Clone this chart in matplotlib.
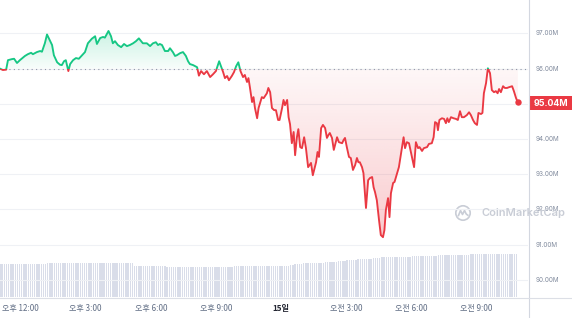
import numpy as np
import matplotlib
matplotlib.use('Agg')
import matplotlib.pyplot as plt
from matplotlib.patches import PathPatch, Rectangle, Circle
from matplotlib.path import Path
from matplotlib.lines import Line2D
from matplotlib.transforms import IdentityTransform

# ---------------- data ----------------
# time in minutes since 11:00 (day 14), price in millions
times_min = [3, 11, 20, 25, 36, 42, 50, 58, 72, 80, 89, 94, 105, 114, 119, 127, 133, 139, 147, 152,
             161, 169, 174, 180, 185, 192, 197, 205, 213, 221, 230, 238, 246, 257, 266, 271, 280, 288, 293, 303,
             310, 315, 321, 329, 338, 346, 354, 362, 371, 379, 387, 398, 409, 418, 426, 434, 440, 445, 451, 459,
             468, 473, 481, 487, 492, 501, 509, 517, 523, 528, 537, 548, 553, 559, 567, 575, 584, 592, 600, 609,
             614, 620, 625, 631, 636, 644, 650, 656, 662, 668, 675, 680, 686, 690, 694, 700, 704, 708, 714, 718,
             727, 732, 741, 745, 750, 755, 761, 766, 772, 776, 783, 787, 791, 797, 801, 805, 810, 815, 819, 824,
             828, 833, 838, 844, 849, 855, 863, 868, 877, 881, 885, 891, 896, 902, 907, 911, 915, 921, 926, 935,
             940, 949, 953, 957, 962, 968, 973, 979, 985, 990, 994, 998, 1004, 1008, 1015, 1021, 1026, 1032, 1036, 1040,
             1045, 1051, 1056, 1062, 1066, 1070, 1076, 1080, 1084, 1090, 1094, 1101, 1106, 1110, 1115, 1119, 1123, 1128, 1134, 1142,
             1148, 1153, 1159, 1163, 1170, 1175, 1184, 1189, 1197, 1202, 1206, 1211, 1214, 1218, 1225, 1231, 1236, 1240, 1244, 1250,
             1257, 1264, 1269, 1275, 1280, 1286, 1294, 1300, 1305, 1311, 1316, 1322, 1326, 1333, 1337, 1341, 1347, 1352, 1358, 1363,
             1369, 1374, 1379, 1383, 1388, 1394, 1399, 1405, 1410, 1419, 1424, 1430, 1435]

prices = [96.00, 95.96, 95.97, 96.24, 96.27, 96.28, 96.16, 96.24, 96.36, 96.41, 96.45, 96.41, 96.47, 96.50, 96.48, 96.72, 96.97, 96.84, 96.67, 96.38,
          96.18, 96.11, 96.10, 96.21, 96.24, 95.93, 96.13, 96.24, 96.30, 96.28, 96.38, 96.47, 96.72, 96.85, 96.92, 96.70, 96.87, 96.90, 96.88, 97.07,
          96.92, 96.72, 96.78, 96.67, 96.61, 96.70, 96.64, 96.67, 96.72, 96.78, 96.86, 96.72, 96.72, 96.64, 96.72, 96.75, 96.67, 96.70, 96.67, 96.50,
          96.50, 96.58, 96.47, 96.36, 96.38, 96.44, 96.47, 96.36, 96.21, 96.13, 96.10, 96.04, 95.80, 95.93, 95.84, 95.93, 95.76, 95.84, 95.93, 96.21,
          96.07, 95.90, 95.73, 95.79, 95.67, 95.79, 95.90, 96.07, 96.18, 95.93, 95.76, 95.82, 95.62, 95.73, 95.47, 95.05, 95.19, 94.88, 94.59, 94.88,
          95.19, 95.16, 95.30, 95.45, 95.33, 94.88, 94.82, 94.82, 94.54, 94.54, 94.88, 95.11, 94.96, 95.11, 94.62, 94.42, 93.88, 94.20, 93.54, 94.05,
          94.28, 93.77, 93.74, 94.05, 93.74, 93.20, 93.32, 92.97, 93.34, 93.63, 93.49, 94.31, 94.40, 94.31, 94.03, 94.11, 94.17, 94.03, 93.69, 94.05,
          93.91, 93.88, 93.97, 94.03, 93.77, 93.49, 93.46, 93.12, 93.26, 93.46, 93.34, 93.34, 93.20, 93.03, 92.04, 92.83, 92.89, 92.92, 92.63, 92.49,
          92.26, 91.70, 91.27, 91.21, 91.41, 91.98, 92.32, 91.78, 92.46, 92.75, 92.78, 93.03, 93.20, 93.46, 93.77, 94.05, 93.74, 93.91, 93.88, 93.49,
          93.20, 93.91, 93.74, 93.77, 93.66, 93.74, 93.77, 93.86, 93.88, 94.05, 94.48, 94.45, 94.25, 94.54, 94.59, 94.57, 94.45, 94.59, 94.48, 94.62,
          94.59, 94.57, 94.54, 94.79, 94.62, 94.62, 94.68, 94.76, 94.68, 94.54, 94.45, 94.40, 94.74, 94.71, 94.74, 95.30, 95.59, 96.01, 95.87, 95.39,
          95.33, 95.36, 95.30, 95.42, 95.33, 95.50, 95.45, 95.45, 95.47, 95.50, 95.36, 95.16, 95.04]

open_price = 96.00
last_label = '95.04M'

# 24h volume (billions), one bar every 6 minutes starting at 11:03 (rows of 10)
vol_start = 3
vol_step = 6
volumes = [33, 33, 33, 33, 33, 33, 33, 33, 33, 33,
           33, 33, 33, 33, 33, 33, 33, 33, 33, 33,
           33, 33, 34, 34, 34, 34, 34, 34, 34, 34,
           34, 34, 34, 34, 34, 34, 34, 34, 34, 34,
           34, 34, 34, 34, 34, 34, 34, 34, 34, 34,
           34, 34, 34, 34, 34, 34, 34, 34, 34, 34,
           34, 34, 31, 31, 31, 31, 31, 31, 31, 31,
           31, 31, 31, 31, 31, 31, 31, 30.5, 30.5, 30.5,
           30.5, 30.5, 30.5, 30.5, 30.5, 30.5, 30.5, 30.5, 30.5, 30.5,
           30.5, 30.5, 30.5, 30.5, 30.5, 30.5, 30.5, 30.5, 30.5, 30.5,
           30.5, 30.5, 30.5, 30.5, 30.5, 30.5, 30.5, 30.5, 31, 31,
           31, 31, 31, 31, 31, 31, 31, 31, 31, 31,
           31, 31, 31, 31, 31, 31, 31, 31, 31, 31,
           31, 31, 31, 31.5, 32, 32.5, 33, 33, 33.5, 33.5,
           34, 34, 34, 34, 34, 34.5, 34.5, 34.5, 34.5, 34.5,
           35, 35, 35, 35, 35.5, 35.5, 36, 36, 36.5, 36.5,
           37, 37, 37, 37.5, 37.5, 38, 38, 38, 38, 38,
           38.5, 38.5, 39, 39, 39.5, 39.5, 40, 40, 40, 40,
           40, 40, 40, 40, 40.5, 40.5, 40.5, 40.5, 40.5, 40.5,
           41, 41, 41, 41, 41, 41, 41.5, 41.5, 41.5, 41.5,
           41.5, 41.5, 42, 42, 42, 42, 42, 42, 42, 42,
           42.5, 42.5, 42.5, 42.5, 42.5, 42.5, 42.5, 43, 43, 43,
           43, 43, 43, 43, 43, 43, 43, 43, 43, 43,
           43, 43, 43, 43, 43, 43, 43, 43, 43]

tick_pos = [60, 240, 420, 600, 780, 960, 1140, 1320]
tick_labels = ['오후 12:00', '오후 3:00', '오후 6:00', '오후 9:00', '15일', '오전 3:00', '오전 6:00', '오전 9:00']
ygrid_vals = [90, 91, 92, 93, 94, 95, 96, 97]
ylabel_vals = [90, 91, 92, 93, 94, 96, 97]

assert len(times_min) == len(prices), (len(times_min), len(prices))

# ---------------- figure ----------------
W, H = 572, 318
GREEN = '#16c784'
RED = '#ea3943'
fig = plt.figure(figsize=(W / 100, H / 100), dpi=100)
fig.patch.set_facecolor('white')

ax_right_px, ax_bot_px = 528, 297
ax = fig.add_axes([0, (H - ax_bot_px) / H, ax_right_px / W, ax_bot_px / H])
axv = ax.twinx()
ax.set_zorder(2)
axv.set_zorder(1)
ax.patch.set_visible(False)

t = np.array(times_min, dtype=float)
p = np.array(prices, dtype=float)
xmin, xmax = 3, 1463
ylo, yhi = 89.51, 97.95

# volume bars
vt = vol_start + vol_step * np.arange(len(volumes))
axv.bar(vt, volumes, width=3.8, color='#d9dde9', linewidth=0, align='center')
axv.set_ylim(0, 297)
axv.set_xlim(xmin, xmax)
for s in axv.spines.values():
    s.set_visible(False)
axv.set_yticks([])
axv.tick_params(length=0, labelright=False, labelbottom=False)

# grid lines
for v in ygrid_vals:
    ax.axhline(v, color='#eff1f5', lw=0.8, zorder=0.5)

# gradient fill between line and open price
poly = ax.fill_between(t, p, open_price, facecolor='none', edgecolor='none')
cpath = Path.make_compound_path(*poly.get_paths())
clip_patch = PathPatch(cpath, transform=ax.transData, facecolor='none', edgecolor='none')
ax.add_patch(clip_patch)
ny = 500
yy = np.linspace(ylo, yhi, ny)
rgba = np.zeros((ny, 2, 4))
g = np.array(matplotlib.colors.to_rgb(GREEN))
r = np.array(matplotlib.colors.to_rgb(RED))
above = yy >= open_price
rgba[above, :, :3] = g
rgba[above, :, 3] = (0.03 + 0.20 * np.clip((yy[above] - open_price) / (97.1 - open_price), 0, 1))[:, None]
rgba[~above, :, :3] = r
rgba[~above, :, 3] = (0.04 + 0.22 * np.clip((open_price - yy[~above]) / (open_price - 91.2), 0, 1))[:, None]
im = ax.imshow(rgba, extent=(xmin, xmax, ylo, yhi), origin='lower', aspect='auto',
               interpolation='bilinear', zorder=1)
im.set_clip_path(clip_patch)

# dotted open line
ax.axhline(open_price, color='#8f97a8', lw=0.8, ls=(0, (1, 3)), zorder=1.5)

# price line, green above / red below open
lg, = ax.plot(t, p, color=GREEN, lw=1.35, zorder=3, solid_joinstyle='round')
lr, = ax.plot(t, p, color=RED, lw=1.35, zorder=3, solid_joinstyle='round')
lg.set_clip_path(Rectangle((xmin, open_price), xmax - xmin, 20, transform=ax.transData))
lr.set_clip_path(Rectangle((xmin, open_price - 20), xmax - xmin, 20, transform=ax.transData))
ax.plot(t[-1], p[-1], 'o', color=RED, ms=4.6, zorder=4, mec='none')

ax.set_xlim(xmin, xmax)
ax.set_ylim(ylo, yhi)
for s in ax.spines.values():
    s.set_visible(False)
ax.set_xticks([])
ax.set_yticks([])

# y labels
for v in ylabel_vals:
    ax.text(1 + 8 / ax_right_px, v, f'{v:.2f}M', transform=ax.get_yaxis_transform(),
            ha='left', va='center', fontsize=4.6, color='#808a9d', family=['Inter', 'DejaVu Sans'])

# x labels
for pos, lab in zip(tick_pos, tick_labels):
    bold = lab.endswith('일')
    ax.text(pos, -11 / ax_bot_px, lab, transform=ax.get_xaxis_transform(),
            ha='center', va='center', fontsize=5.8,
            color='#222531' if bold else '#616e85', fontweight='bold' if bold else 'normal',
            family=['Noto Sans CJK KR', 'DejaVu Sans'])

ident = IdentityTransform()
# right axis line and bottom line
fig.add_artist(Line2D([528.5, 528.5], [0, H], transform=ident, color='#d3d7e0', lw=0.8))
fig.add_artist(Line2D([0, W], [H - 297.5, H - 297.5], transform=ident, color='#dcdfe6', lw=0.8))

# last price label box
fig.add_artist(Rectangle((529, H - 110), 43, 14, transform=ident, facecolor=RED, edgecolor='none'))
fig.text(550.5 / W, (H - 103) / H, last_label, ha='center', va='center', color='white',
         fontsize=6.4, fontweight='bold', family=['Inter', 'DejaVu Sans'])

# watermark
wm = '#c9cdd6'
cx, cy = 463, H - 213
fig.add_artist(Circle((cx, cy), 7.2, transform=ident, facecolor='none', edgecolor=wm, lw=1.2))
fig.add_artist(Line2D([cx - 4.5, cx - 2.5, cx - 0.5, cx + 1.5, cx + 3.2, cx + 4.8],
                      [cy - 2.5, cy + 2.5, cy - 1.5, cy + 2.5, cy - 1.0, cy - 2.2],
                      transform=ident, color=wm, lw=1.2))
fig.text(481 / W, (H - 213) / H, 'CoinMarketCap', ha='left', va='center', color=wm,
         fontsize=8.0, fontweight='semibold', family=['Inter', 'DejaVu Sans'])

fig.savefig('out.png', dpi=100, facecolor='white')
